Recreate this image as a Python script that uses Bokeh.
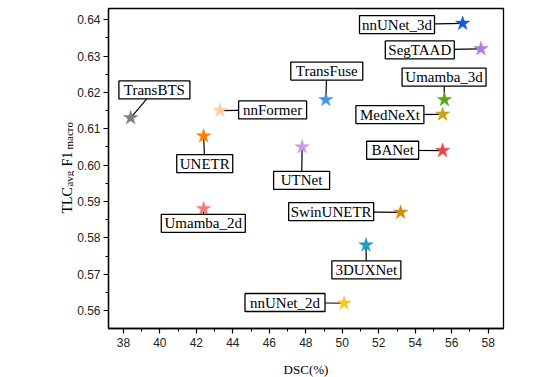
import math
from bokeh.plotting import figure
from bokeh.layouts import row, column
from bokeh.models import SingleIntervalTicker, NumeralTickFormatter, Range1d, ColumnDataSource
from bokeh.core.properties import value
from bokeh.embed import file_html
from bokeh.resources import INLINE

# ---- data ----
models = ["TransBTS", "nnFormer", "UNETR", "Umamba_2d", "TransFuse", "UTNet",
          "nnUNet_3d", "SegTAAD", "Umamba_3d", "MedNeXt", "BANet", "SwinUNETR",
          "3DUXNet", "nnUNet_2d"]
dsc = [38.4, 43.3, 42.4, 42.4, 49.1, 47.8, 56.6, 57.6, 55.6, 55.5, 55.5, 53.2, 51.3, 50.1]
tlc_f1 = [0.613, 0.615, 0.608, 0.588, 0.618, 0.605, 0.639, 0.632, 0.618, 0.614, 0.604, 0.587, 0.578, 0.562]
colors = ["#808080", "#FDCBA0", "#FF7F00", "#F77B7B", "#4A94E6", "#C79BE5",
          "#0F5FD0", "#B17CDB", "#5AA51A", "#C6A517", "#EC4242", "#D28A0F",
          "#1AA0C9", "#FFC61E"]

# label box layout (centres in data coordinates, widths in pixels)
label_x = [39.7, 46.18, 42.46, 42.38, 49.15, 47.77, 53.0, 54.25, 55.58, 52.61, 52.76, 49.39, 51.32, 46.86]
label_y = [0.6207, 0.6152, 0.6004, 0.5840, 0.6259, 0.5958, 0.6387, 0.6317, 0.6242, 0.6139, 0.6041, 0.5872, 0.5712, 0.5622]
box_w = [71, 68, 56, 84, 72, 56, 75, 69, 84, 68, 52, 85, 69, 80]

x_label = "DSC(%)"
y_label_parts = ["TLC", "avg", "F1", "macro"]

src = ColumnDataSource(dict(x=dsc, y=tlc_f1, c=colors, name=models,
                            lx=label_x, ly=label_y, bw=box_w))

serif = "Liberation Serif"
xr = Range1d(37.184, 58.838)
yr = Range1d(0.55505, 0.64311)

p = figure(width=478, height=352, output_backend="svg", toolbar_location=None,
           x_range=xr, y_range=yr,
           min_border_left=31, min_border_right=49, min_border_top=8, min_border_bottom=24)
p.xgrid.visible = False
p.ygrid.visible = False
p.outline_line_color = "black"
p.outline_line_width = 1.3

for ax in (p.xaxis[0], p.yaxis[0]):
    ax.axis_line_color = "black"
    ax.axis_line_width = 1.3
    ax.major_tick_line_color = "black"
    ax.minor_tick_line_color = "black"
    ax.major_tick_line_width = 1.2
    ax.minor_tick_line_width = 1.0
    ax.major_tick_in = 0
    ax.major_tick_out = 5
    ax.minor_tick_in = 0
    ax.minor_tick_out = 3
    ax.major_label_text_font = "Liberation Sans"
    ax.major_label_text_font_size = "12px"
    ax.major_label_text_color = "#222222"

p.xaxis[0].ticker = SingleIntervalTicker(interval=2, num_minor_ticks=2)
p.yaxis[0].ticker = SingleIntervalTicker(interval=0.01, num_minor_ticks=2)
p.yaxis[0].formatter = NumeralTickFormatter(format="0.00")
p.xaxis[0].major_label_standoff = 4
p.yaxis[0].major_label_standoff = 3

# connectors, stars, label boxes
p.segment(x0="x", y0="y", x1="lx", y1="ly", source=src, line_color="black", line_width=1.2)
p.scatter(x="x", y="y", source=src, marker="star", size=15, fill_color="c",
          line_color="c", line_width=0.5)
p.rect(x="lx", y="ly", width="bw", height=18, width_units="screen", height_units="screen",
       source=src, fill_color="white", line_color="black", line_width=1.3)
p.text(x="lx", y="ly", text="name", source=src, text_align="center", text_baseline="middle",
       text_font=value(serif), text_font_size="15px", text_color="black")

# y-axis title panel (with subscripts), sharing the y range
q = figure(width=74, height=352, output_backend="svg", toolbar_location=None,
           x_range=Range1d(0, 74), y_range=yr,
           x_axis_location=None, y_axis_location=None,
           min_border_left=0, min_border_right=0, min_border_top=8, min_border_bottom=24)
q.grid.visible = False
q.outline_line_color = None

ys = [0.5867, 0.5941, 0.5996, 0.6043]
xs = [66.5, 68.8, 66.5, 68.8]
sizes = ["14px", "11px", "14px", "11px"]
for t, xx, yy, fs in zip(y_label_parts, xs, ys, sizes):
    q.text(x=[xx], y=[yy], text=[t], angle=math.pi / 2, text_align="left",
           text_baseline="alphabetic", text_font=value(serif), text_font_size=fs,
           text_color="black")

# x-axis title strip, sharing the x range
r = figure(width=478, height=25, output_backend="svg", toolbar_location=None,
           x_range=xr, y_range=Range1d(0, 25),
           x_axis_location=None, y_axis_location=None,
           min_border_left=31, min_border_right=49, min_border_top=0, min_border_bottom=0)
r.grid.visible = False
r.outline_line_color = None
r.text(x=[(xr.start + xr.end) / 2], y=[8], text=[x_label], text_align="center",
       text_baseline="alphabetic", text_font=value(serif), text_font_size="13px",
       text_color="black")

layout = row(q, column(p, r, spacing=0), spacing=0)
open("out.html", "w").write(file_html(layout, INLINE))
